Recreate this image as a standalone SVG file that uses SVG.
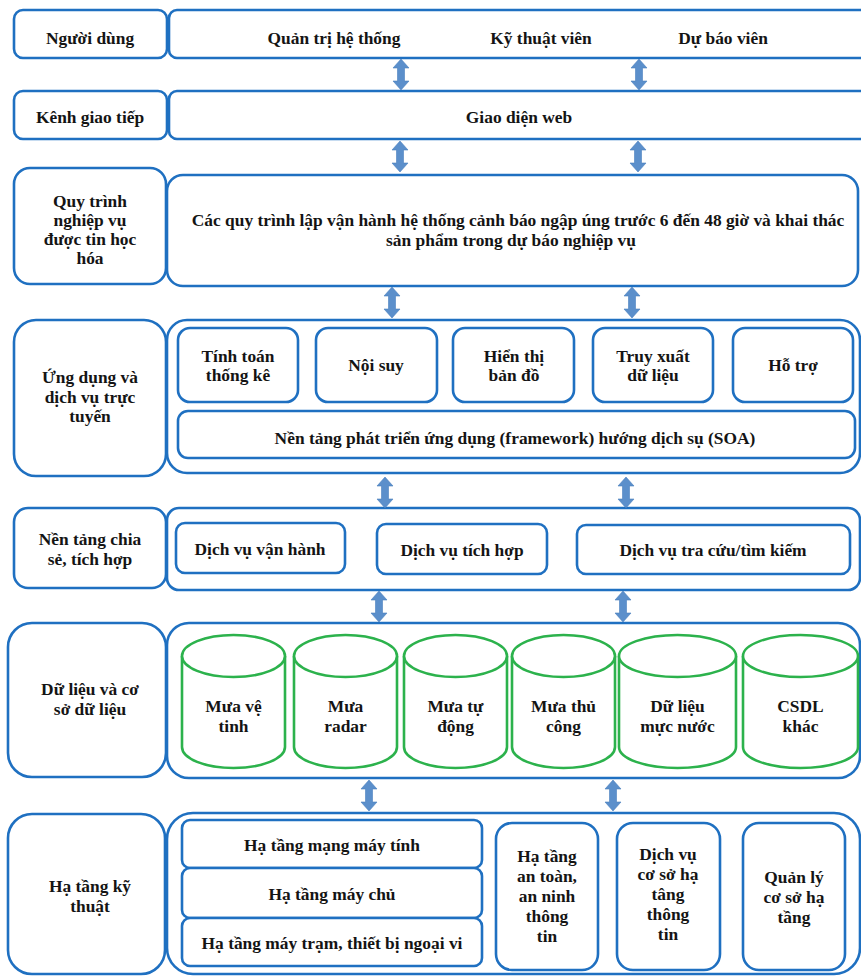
<svg xmlns="http://www.w3.org/2000/svg" xmlns:xlink="http://www.w3.org/1999/xlink" width="861" height="977" viewBox="0 0 861 977">
  <style>
    .box { fill: #ffffff; stroke: #1f70c1; stroke-width: 2.6; }
    .db { fill: #ffffff; stroke: #2cb24c; stroke-width: 2.6; }
    .arr { fill: #5b8fcb; stroke: #4a7fbe; stroke-width: 0.6; }
    .lbl { font-family: 'Liberation Serif', 'Times New Roman', serif; font-weight: 700; font-size: 17.4px; fill: #141414; text-anchor: middle; }
  </style>
  <defs>
    <!-- vertical double-headed block arrow, 31px tall, anchored at its top tip -->
    <path id="dblArrow" d="M0,0 L8,9 L3.5,9 L3.5,22 L8,22 L0,31 L-8,22 L-3.5,22 L-3.5,9 L-8,9 Z"/>
  </defs>

  <rect x="0" y="0" width="861" height="977" fill="#ffffff"/>

  <g class="lbl">
  <!-- Layer 1: users -->
  <g id="nguoi-dung">
    <rect class="box" x="14" y="10" width="153" height="48" rx="9"/>
    <text x="90" y="44">Người dùng</text>
  </g>
  <g id="nguoi-dung-vai-tro">
    <rect class="box" x="169" y="10" width="720" height="48" rx="8"/>
    <text x="334" y="44">Quản trị hệ thống</text>
    <text x="541" y="44">Kỹ thuật viên</text>
    <text x="723" y="44">Dự báo viên</text>
  </g>

  <!-- Layer 2: channel -->
  <g id="kenh-giao-tiep">
    <rect class="box" x="14" y="91" width="153" height="48" rx="9"/>
    <text x="90" y="123">Kênh giao tiếp</text>
  </g>
  <g id="giao-dien-web">
    <rect class="box" x="169" y="91" width="720" height="48" rx="8"/>
    <text x="519" y="123">Giao diện web</text>
  </g>

  <!-- Layer 3: business processes -->
  <g id="quy-trinh">
    <rect class="box" x="14" y="168" width="152" height="116" rx="16"/>
    <text x="90" y="207">Quy trình</text>
    <text x="90" y="226">nghiệp vụ</text>
    <text x="90" y="245">được tin học</text>
    <text x="90" y="264">hóa</text>
  </g>
  <g id="quy-trinh-noi-dung">
    <rect class="box" x="167" y="175" width="691" height="111" rx="16"/>
    <text x="518" y="226">Các quy trình lập vận hành hệ thống cảnh báo ngập úng trước 6 đến 48 giờ và khai thác</text>
    <text x="511" y="246">sản phẩm trong dự báo nghiệp vụ</text>
  </g>

  <!-- Layer 4: applications and online services -->
  <g id="ung-dung">
    <rect class="box" x="14" y="320" width="152" height="156" rx="22"/>
    <text x="90" y="383">Ứng dụng và</text>
    <text x="90" y="403">dịch vụ trực</text>
    <text x="90" y="422">tuyến</text>
  </g>
  <g id="ung-dung-khung">
    <rect class="box" x="167" y="320" width="693" height="153" rx="20"/>
  </g>
  <g id="tinh-toan">
    <rect class="box" x="178" y="328" width="120" height="74" rx="12"/>
    <text x="238" y="362">Tính toán</text>
    <text x="238" y="381">thống kê</text>
  </g>
  <g id="noi-suy">
    <rect class="box" x="316" y="328" width="121" height="74" rx="12"/>
    <text x="376" y="371">Nội suy</text>
  </g>
  <g id="hien-thi">
    <rect class="box" x="453" y="328" width="121" height="74" rx="12"/>
    <text x="514" y="362">Hiển thị</text>
    <text x="514" y="381">bản đồ</text>
  </g>
  <g id="truy-xuat">
    <rect class="box" x="593" y="328" width="120" height="74" rx="12"/>
    <text x="653" y="362">Truy xuất</text>
    <text x="653" y="381">dữ liệu</text>
  </g>
  <g id="ho-tro">
    <rect class="box" x="733" y="328" width="120" height="74" rx="12"/>
    <text x="793" y="371">Hỗ trợ</text>
  </g>
  <g id="soa">
    <rect class="box" x="178" y="411" width="677" height="47" rx="10"/>
    <text x="515" y="444">Nền tảng phát triển ứng dụng (framework) hướng dịch sụ (SOA)</text>
  </g>

  <!-- Layer 5: sharing and integration platform -->
  <g id="nen-tang-chia-se">
    <rect class="box" x="14" y="508" width="152" height="80" rx="14"/>
    <text x="90" y="545">Nền tảng chia</text>
    <text x="90" y="565">sẻ, tích hợp</text>
  </g>
  <g id="nen-tang-khung">
    <rect class="box" x="167" y="508" width="693" height="82" rx="12"/>
  </g>
  <g id="dv-van-hanh">
    <rect class="box" x="176" y="523" width="169" height="50" rx="9"/>
    <text x="260" y="555">Dịch vụ vận hành</text>
  </g>
  <g id="dv-tich-hop">
    <rect class="box" x="377" y="524" width="170" height="50" rx="9"/>
    <text x="462" y="556">Dịch vụ tích hợp</text>
  </g>
  <g id="dv-tra-cuu">
    <rect class="box" x="577" y="525" width="273" height="49" rx="9"/>
    <text x="713" y="556">Dịch vụ tra cứu/tìm kiếm</text>
  </g>

  <!-- Layer 6: data and databases -->
  <g id="du-lieu">
    <rect class="box" x="8" y="623" width="158" height="154" rx="24"/>
    <text x="90" y="695">Dữ liệu và cơ</text>
    <text x="90" y="715">sở dữ liệu</text>
  </g>
  <g id="du-lieu-khung">
    <rect class="box" x="167" y="623" width="693" height="155" rx="22"/>
  </g>
  <g id="mua-ve-tinh">
    <path class="db" d="M182,656 V747 A51.5,21 0 0 0 285,747 V656"/>
    <ellipse class="db" cx="233.5" cy="656" rx="51.5" ry="21"/>
    <text x="233.5" y="712">Mưa vệ</text>
    <text x="233.5" y="732">tinh</text>
  </g>
  <g id="mua-radar">
    <path class="db" d="M294,656 V747 A51.5,21 0 0 0 397,747 V656"/>
    <ellipse class="db" cx="345.5" cy="656" rx="51.5" ry="21"/>
    <text x="345.5" y="712">Mưa</text>
    <text x="345.5" y="732">radar</text>
  </g>
  <g id="mua-tu-dong">
    <path class="db" d="M404,656 V747 A51.5,21 0 0 0 507,747 V656"/>
    <ellipse class="db" cx="455.5" cy="656" rx="51.5" ry="21"/>
    <text x="455.5" y="712">Mưa tự</text>
    <text x="455.5" y="732">động</text>
  </g>
  <g id="mua-thu-cong">
    <path class="db" d="M512,656 V747 A51.5,21 0 0 0 615,747 V656"/>
    <ellipse class="db" cx="563.5" cy="656" rx="51.5" ry="21"/>
    <text x="563.5" y="712">Mưa thủ</text>
    <text x="563.5" y="732">công</text>
  </g>
  <g id="du-lieu-muc-nuoc">
    <path class="db" d="M619,656 V747 A58.5,21 0 0 0 736,747 V656"/>
    <ellipse class="db" cx="677.5" cy="656" rx="58.5" ry="21"/>
    <text x="677.5" y="712">Dữ liệu</text>
    <text x="677.5" y="732">mực nước</text>
  </g>
  <g id="csdl-khac">
    <path class="db" d="M743,656 V747 A57.5,21 0 0 0 858,747 V656"/>
    <ellipse class="db" cx="800.5" cy="656" rx="57.5" ry="21"/>
    <text x="800.5" y="712">CSDL</text>
    <text x="800.5" y="732">khác</text>
  </g>

  <!-- Layer 7: technical infrastructure -->
  <g id="ha-tang">
    <rect class="box" x="8" y="814" width="157" height="160" rx="24"/>
    <text x="90" y="892">Hạ tầng kỹ</text>
    <text x="90" y="912">thuật</text>
  </g>
  <g id="ha-tang-khung">
    <rect class="box" x="167" y="813" width="693" height="161" rx="26"/>
  </g>
  <g id="ht-mang">
    <rect class="box" x="182" y="820" width="300" height="48" rx="8"/>
    <text x="332" y="851">Hạ tầng mạng máy tính</text>
  </g>
  <g id="ht-may-chu">
    <rect class="box" x="182" y="868" width="300" height="50" rx="8"/>
    <text x="332" y="900">Hạ tầng máy chủ</text>
  </g>
  <g id="ht-may-tram">
    <rect class="box" x="182" y="918" width="300" height="48" rx="8"/>
    <text x="332" y="949">Hạ tầng máy trạm, thiết bị ngoại vi</text>
  </g>
  <g id="ht-an-toan">
    <rect class="box" x="496" y="823" width="102" height="147" rx="16"/>
    <text x="547" y="862">Hạ tầng</text>
    <text x="547" y="882">an toàn,</text>
    <text x="547" y="902">an ninh</text>
    <text x="547" y="922">thông</text>
    <text x="547" y="942">tin</text>
  </g>
  <g id="dv-co-so-ha-tang">
    <rect class="box" x="617" y="823" width="103" height="147" rx="16"/>
    <text x="668" y="860">Dịch vụ</text>
    <text x="668" y="880">cơ sở hạ</text>
    <text x="668" y="900">tâng</text>
    <text x="668" y="920">thông</text>
    <text x="668" y="940">tin</text>
  </g>
  <g id="quan-ly-ha-tang">
    <rect class="box" x="743" y="823" width="102" height="147" rx="16"/>
    <text x="794" y="883">Quản lý</text>
    <text x="794" y="903">cơ sở hạ</text>
    <text x="794" y="923">tầng</text>
  </g>
  </g>

  <!-- connectors between layers -->
  <g id="connectors">
    <use class="arr" xlink:href="#dblArrow" href="#dblArrow" x="401" y="59"/>
    <use class="arr" xlink:href="#dblArrow" href="#dblArrow" x="639" y="59"/>
    <use class="arr" xlink:href="#dblArrow" href="#dblArrow" x="400" y="141"/>
    <use class="arr" xlink:href="#dblArrow" href="#dblArrow" x="638" y="141"/>
    <use class="arr" xlink:href="#dblArrow" href="#dblArrow" x="392" y="287"/>
    <use class="arr" xlink:href="#dblArrow" href="#dblArrow" x="632" y="287"/>
    <use class="arr" xlink:href="#dblArrow" href="#dblArrow" x="385" y="477"/>
    <use class="arr" xlink:href="#dblArrow" href="#dblArrow" x="626" y="477"/>
    <use class="arr" xlink:href="#dblArrow" href="#dblArrow" x="379" y="591"/>
    <use class="arr" xlink:href="#dblArrow" href="#dblArrow" x="623" y="591"/>
    <use class="arr" xlink:href="#dblArrow" href="#dblArrow" x="369" y="780"/>
    <use class="arr" xlink:href="#dblArrow" href="#dblArrow" x="613" y="780"/>
  </g>
</svg>
